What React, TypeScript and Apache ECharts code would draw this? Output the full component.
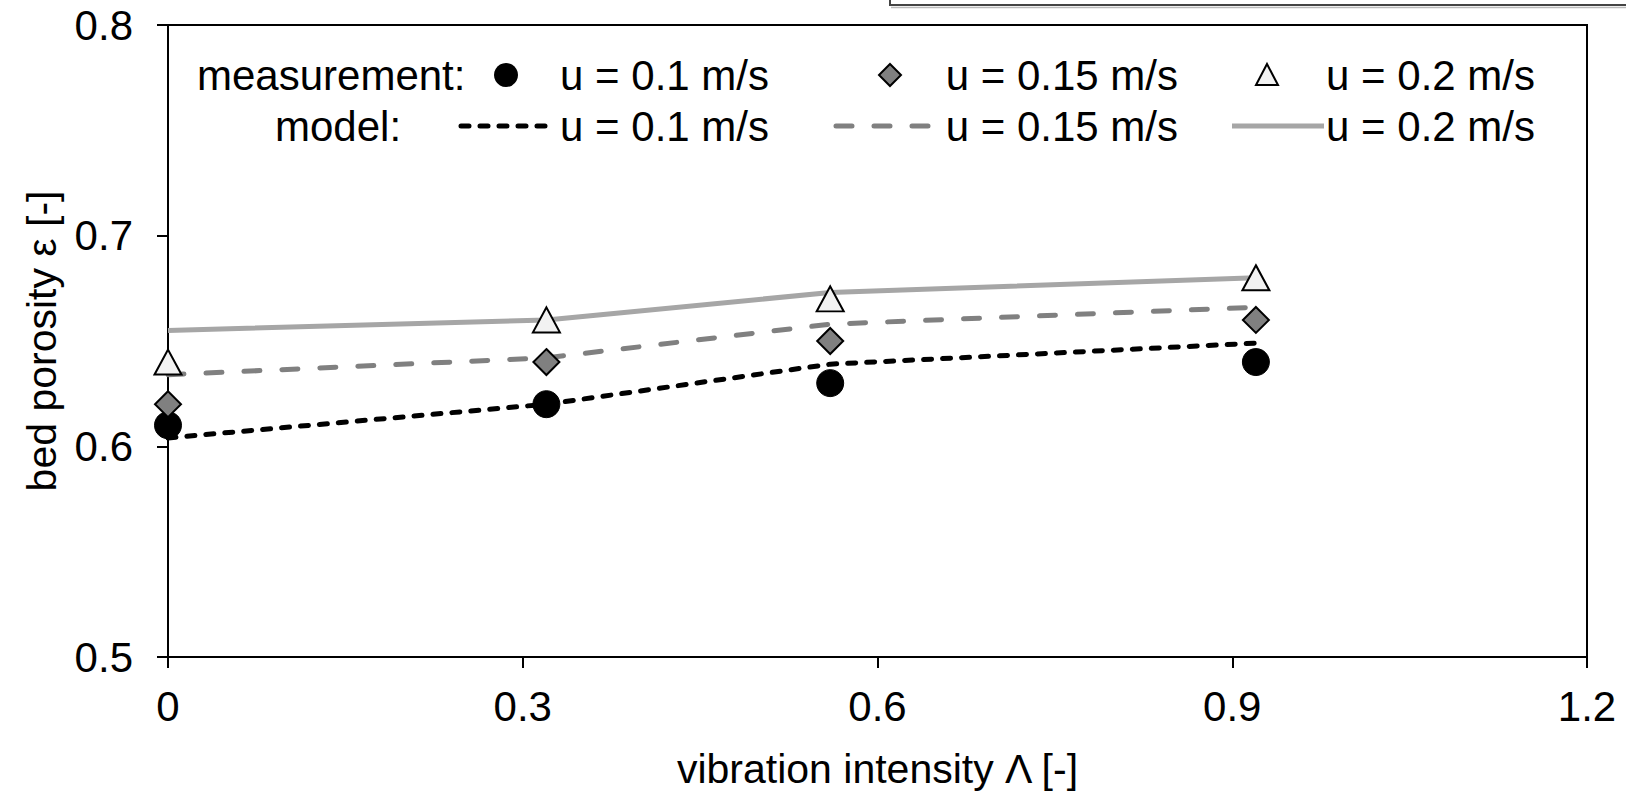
import React, { useEffect, useRef } from "react";
import * as echarts from "echarts";

const xValues = [0, 0.32, 0.56, 0.92];
const measU01 = [0.61, 0.62, 0.63, 0.64];
const measU015 = [0.62, 0.64, 0.65, 0.66];
const measU02 = [0.64, 0.66, 0.67, 0.68];
const modelU01 = [0.604, 0.62, 0.639, 0.649];
const modelU015 = [0.634, 0.642, 0.658, 0.666];
const modelU02 = [0.655, 0.66, 0.673, 0.68];
const xTicks = [0, 0.3, 0.6, 0.9, 1.2];
const yTicks = [0.5, 0.6, 0.7, 0.8];
const legendLabels = ["u = 0.1 m/s", "u = 0.15 m/s", "u = 0.2 m/s"];

const FONT = "'Liberation Sans', Arial, sans-serif";

function pairs(xs: number[], ys: number[]) {
  return xs.map((x, i) => [x, ys[i]]);
}

export default function App() {
  const ref = useRef<HTMLDivElement>(null);
  useEffect(() => {
    if (!ref.current) return;
    const chart = echarts.init(ref.current, undefined, { renderer: "svg" });
    const legendFont = 42;
    const row1 = 75;
    const row2 = 126;
    const txt = (text: string, x: number, y: number, align: string = "left") => ({
      type: "text",
      x,
      y,
      style: { text, fill: "#000", font: `${legendFont}px ${FONT}`, textVerticalAlign: "middle", textAlign: align },
      z: 100,
    });
    chart.setOption({
      animation: false,
      backgroundColor: "#fff",
      textStyle: { fontFamily: FONT, color: "#000" },
      grid: { left: 168, top: 25, width: 1419, height: 643, show: true, borderColor: "#000", borderWidth: 2, backgroundColor: "transparent" },
      xAxis: {
        type: "value",
        min: xTicks[0],
        max: xTicks[xTicks.length - 1],
        interval: 0.3,
        name: "vibration intensity Λ [-]",
        nameLocation: "middle",
        nameGap: 91,
        nameTextStyle: { fontSize: 41, color: "#000", fontFamily: FONT },
        axisLine: { lineStyle: { color: "#000", width: 2 } },
        axisTick: { show: true, inside: false, length: 11, lineStyle: { color: "#000", width: 2 } },
        axisLabel: { fontSize: 42, color: "#000", margin: 28, fontFamily: FONT, formatter: (v: number) => String(Math.round(v * 10) / 10) },
        splitLine: { show: false },
      },
      yAxis: {
        type: "value",
        min: yTicks[0],
        max: yTicks[yTicks.length - 1],
        interval: 0.1,
        name: "bed porosity ε [-]",
        nameLocation: "middle",
        nameGap: 106,
        nameTextStyle: { fontSize: 41, color: "#000", fontFamily: FONT },
        axisLine: { lineStyle: { color: "#000", width: 2 } },
        axisTick: { show: true, inside: false, length: 11, lineStyle: { color: "#000", width: 2 } },
        axisLabel: { fontSize: 42, color: "#000", margin: 35, fontFamily: FONT, formatter: (v: number) => String(Math.round(v * 10) / 10) },
        splitLine: { show: false },
      },
      series: [
        {
          name: "model u=0.1",
          type: "line",
          data: pairs(xValues, modelU01),
          showSymbol: false,
          lineStyle: { color: "#000", width: 5, type: [8, 11], cap: "round" },
          z: 2,
        },
        {
          name: "model u=0.15",
          type: "line",
          data: pairs(xValues, modelU015),
          showSymbol: false,
          lineStyle: { color: "#808080", width: 5, type: [16, 22], cap: "round" },
          z: 2,
        },
        {
          name: "model u=0.2",
          type: "line",
          data: pairs(xValues, modelU02),
          showSymbol: false,
          lineStyle: { color: "#a6a6a6", width: 5 },
          z: 2,
        },
        {
          name: "meas u=0.1",
          type: "scatter",
          data: pairs(xValues, measU01),
          symbol: "circle",
          symbolSize: 27,
          itemStyle: { color: "#000", borderColor: "#000", borderWidth: 1, opacity: 1 },
          z: 5,
        },
        {
          name: "meas u=0.15",
          type: "scatter",
          data: pairs(xValues, measU015),
          symbol: "diamond",
          symbolSize: [26, 26],
          itemStyle: { color: "#808080", borderColor: "#000", borderWidth: 2, opacity: 1 },
          z: 5,
        },
        {
          name: "meas u=0.2",
          type: "scatter",
          data: pairs(xValues, measU02),
          symbol: "triangle",
          symbolSize: [27, 25],
          itemStyle: { color: "#f2f2f2", borderColor: "#000", borderWidth: 2, opacity: 1 },
          z: 5,
        },
      ],
      graphic: [
        { type: "polyline", shape: { points: [[890, 0], [890, 5], [1626, 5]] }, style: { stroke: "#444", lineWidth: 2, fill: "none" }, z: 100 },
        { type: "line", shape: { x1: 891, y1: 7.5, x2: 1626, y2: 7.5 }, style: { stroke: "#bbb", lineWidth: 1.5 }, z: 100 },
        txt("measurement:", 197, row1),
        { type: "circle", shape: { cx: 506, cy: row1, r: 12 }, style: { fill: "#000" }, z: 100 },
        txt(legendLabels[0], 769, row1, "right"),
        { type: "polygon", shape: { points: [[890, row1 - 11], [901, row1], [890, row1 + 11], [879, row1]] }, style: { fill: "#808080", stroke: "#000", lineWidth: 2 }, z: 100 },
        txt(legendLabels[1], 1178, row1, "right"),
        { type: "polygon", shape: { points: [[1267, row1 - 11], [1278, row1 + 10], [1256, row1 + 10]] }, style: { fill: "#f2f2f2", stroke: "#000", lineWidth: 2 }, z: 100 },
        txt(legendLabels[2], 1535, row1, "right"),
        txt("model:", 275, row2),
        { type: "line", shape: { x1: 461, y1: row2, x2: 556, y2: row2 }, style: { stroke: "#000", lineWidth: 5, lineDash: [8, 11], lineCap: "round" }, z: 100 },
        txt(legendLabels[0], 769, row2, "right"),
        { type: "line", shape: { x1: 836, y1: row2, x2: 932, y2: row2 }, style: { stroke: "#808080", lineWidth: 5, lineDash: [16, 22], lineCap: "round" }, z: 100 },
        txt(legendLabels[1], 1178, row2, "right"),
        { type: "line", shape: { x1: 1232, y1: row2, x2: 1324, y2: row2 }, style: { stroke: "#a6a6a6", lineWidth: 5 }, z: 100 },
        txt(legendLabels[2], 1535, row2, "right"),
      ],
    });
    return () => chart.dispose();
  }, []);
  return <div ref={ref} style={{ position: "fixed", left: 0, top: 0, width: 1626, height: 794, background: "#fff" }} />;
}
